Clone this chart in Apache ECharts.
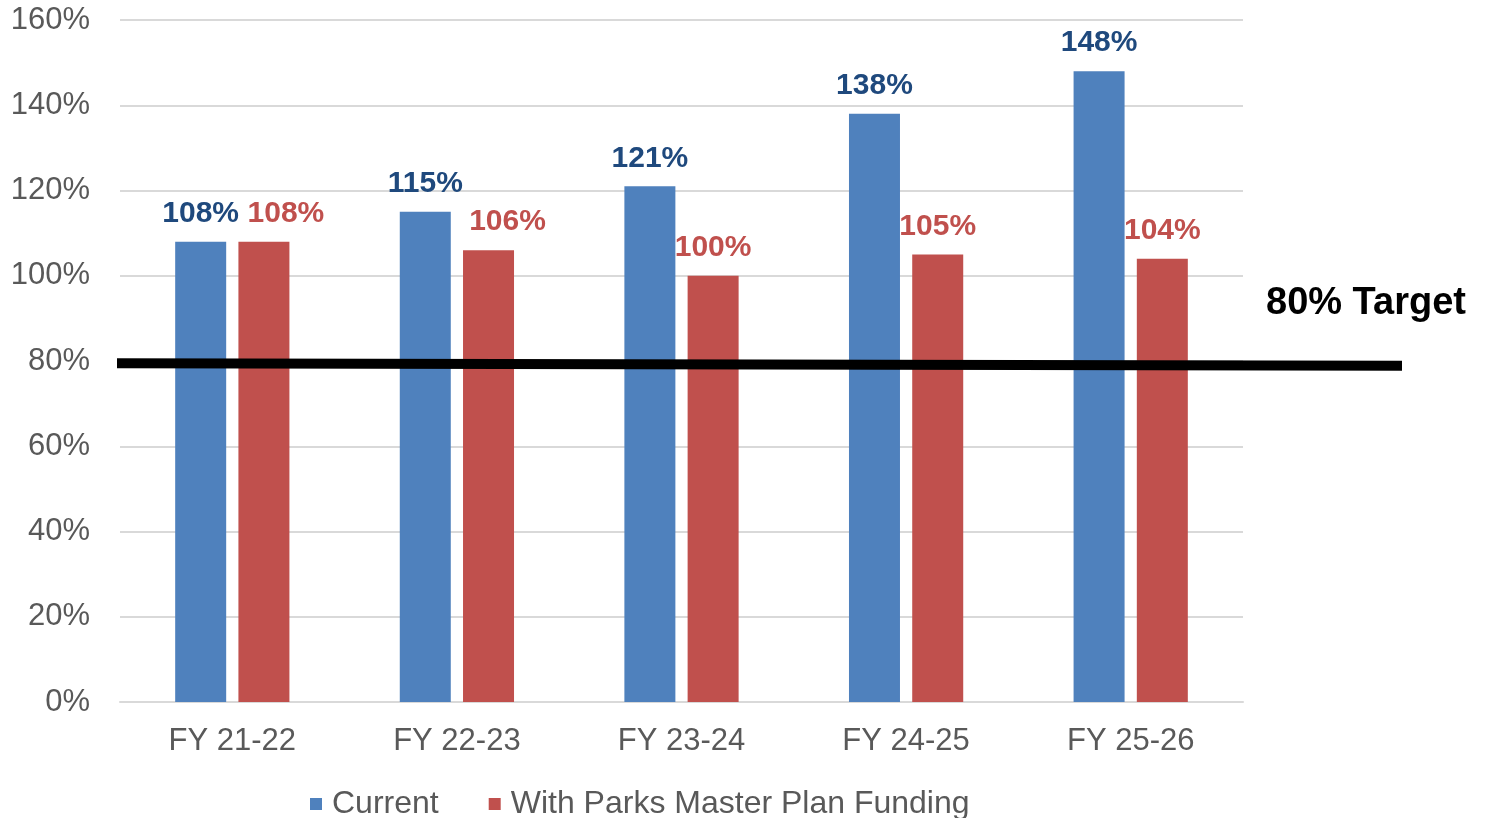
<!DOCTYPE html>
<html>
<head>
<meta charset="utf-8">
<script src="https://cdn.jsdelivr.net/npm/echarts@6/dist/echarts.min.js"></script>
<style>
html,body{margin:0;padding:0;background:#fff;}
#c{width:1486px;height:818px;}
</style>
</head>
<body>
<div id="c"></div>
<script>
var categories = ['FY 21-22', 'FY 22-23', 'FY 23-24', 'FY 24-25', 'FY 25-26'];
var currentValues = [108, 115, 121, 138, 148];
var parksValues = [108, 106, 100, 105, 104];
var parksLabelShift = [22, 19, 0, 0, 0];
var seriesNames = ['Current', 'With Parks Master Plan Funding'];
var yTicks = [0, 20, 40, 60, 80, 100, 120, 140, 160];
var targetValue = 80;
var targetLineStartValue = 79.5;
var targetLineEndValue = 78.9;
var targetLabel = '80% Target';

var FONT = 'Liberation Sans, Arial, sans-serif';
var chart = echarts.init(document.getElementById('c'), null, {renderer: 'canvas'});

var labelBase = {show: true, position: 'top', distance: 13, fontFamily: FONT, fontWeight: 'bold', fontSize: 30,
  formatter: function (p) { return p.value + '%'; }};

var option = {
  animation: false,
  backgroundColor: '#ffffff',
  grid: {left: 120, right: 243, top: 20, bottom: 116, containLabel: false},
  legend: {
    left: 305, top: 783, itemWidth: 12, itemHeight: 12, itemGap: 50,
    icon: 'rect',
    textStyle: {fontFamily: FONT, fontSize: 32, color: '#595959', padding: [0, 0, 0, 5]},
    data: seriesNames
  },
  xAxis: {
    type: 'category', data: categories,
    axisLine: {show: true, lineStyle: {color: '#D9D9D9', width: 2}},
    axisTick: {show: false},
    axisLabel: {fontFamily: FONT, fontSize: 31, color: '#595959', margin: 24}
  },
  yAxis: {
    type: 'value', min: yTicks[0], max: yTicks[yTicks.length - 1], interval: 20,
    axisLine: {show: false}, axisTick: {show: false},
    splitLine: {lineStyle: {color: '#D9D9D9', width: 2}},
    axisLabel: {fontFamily: FONT, fontSize: 31, color: '#595959', margin: 30,
      formatter: function (v) { return v + '%'; }}
  },
  series: [
    {
      name: seriesNames[0], type: 'bar', data: currentValues,
      barWidth: 51, barGap: '24%',
      itemStyle: {color: '#4F81BD'},
      label: Object.assign({}, labelBase, {color: '#1F497D'})
    },
    {
      name: seriesNames[1], type: 'bar',
      data: parksValues.map(function (v, i) {
        return {value: v, label: {offset: [parksLabelShift[i], 0]}};
      }),
      barWidth: 51,
      itemStyle: {color: '#C0504D'},
      label: Object.assign({}, labelBase, {color: '#C0504D'})
    }
  ]
};
chart.setOption(option);

var yStart = chart.convertToPixel({yAxisIndex: 0}, targetLineStartValue);
var yEnd = chart.convertToPixel({yAxisIndex: 0}, targetLineEndValue);
var yTarget = chart.convertToPixel({yAxisIndex: 0}, targetValue);
chart.setOption({
  graphic: [
    {type: 'line', z: 100,
      shape: {x1: 117, y1: yStart, x2: 1402, y2: yEnd},
      style: {stroke: '#000000', lineWidth: 10}},
    {type: 'text', z: 100, left: 1266, top: yTarget - 76,
      style: {text: targetLabel, font: 'bold 38px ' + FONT, fill: '#000000'}}
  ]
});
</script>
</body>
</html>
